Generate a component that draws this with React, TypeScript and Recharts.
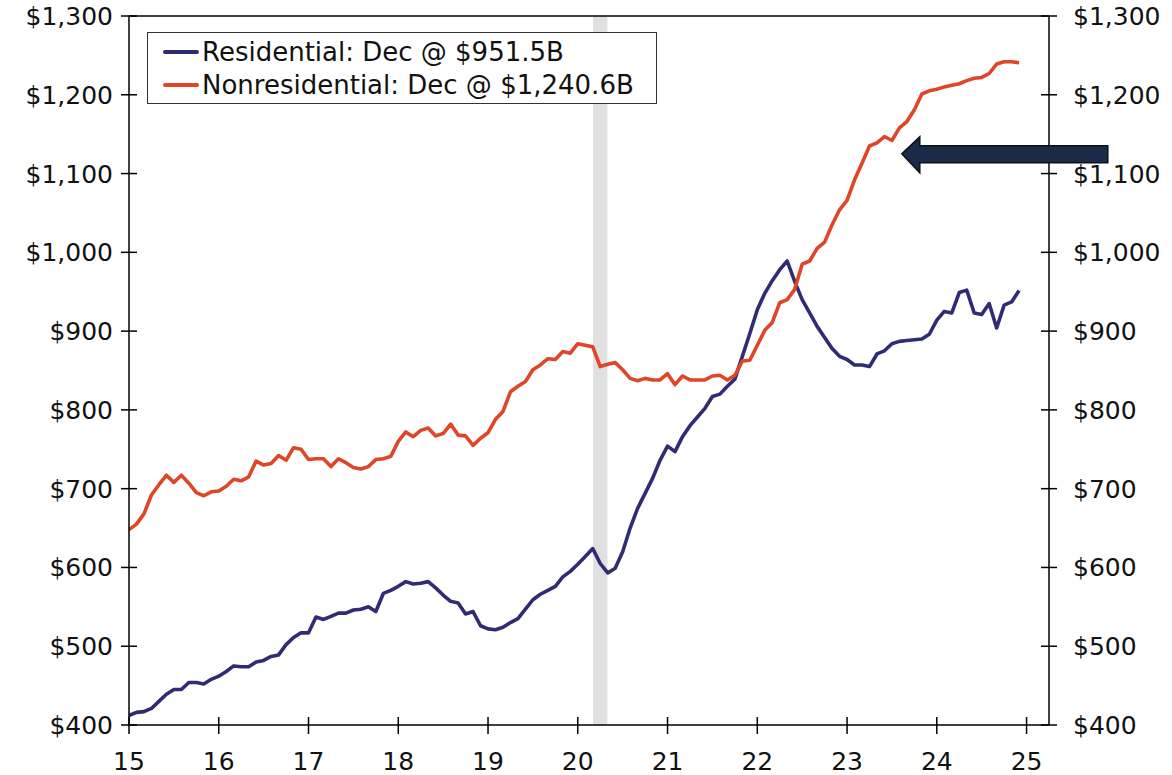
import React from 'react'
import { LineChart, Line, XAxis, YAxis, ReferenceArea, ReferenceLine, ReferenceDot, Legend } from 'recharts'

// monthly, Jan 2015 .. Dec 2024, $ billions (SAAR)
const residential = [
  412, 416, 417, 421, 430, 439, 445, 445, 454, 454, 452, 458,
  462, 468, 475, 474, 474, 480, 482, 487, 489, 502, 511, 517,
  517, 537, 534, 538, 542, 542, 546, 547, 550, 544, 567, 571,
  576, 582, 579, 580, 582, 574, 565, 557, 555, 541, 544, 526,
  522, 521, 524, 530, 535, 547, 559, 566, 571, 576, 588, 595,
  604, 614, 624, 605, 593, 599, 620, 650, 675, 694, 713, 736,
  754, 747, 766, 780, 791, 802, 817, 820, 830, 839, 868, 897,
  927, 948, 964, 978, 989, 963, 940, 923, 906, 892, 878, 868,
  864, 857, 857, 855, 871, 875, 884, 887, 888, 889, 890, 896,
  914, 925, 923, 949, 952, 923, 921, 935, 904, 933, 937, 951.5,
]

const nonresidential = [
  648, 655, 668, 692, 705, 717, 708, 717, 707, 695, 691, 696,
  697, 703, 712, 710, 715, 735, 730, 732, 742, 736, 752, 750,
  737, 738, 738, 728, 738, 733, 727, 725, 728, 737, 738, 741,
  760, 772, 766, 774, 777, 767, 770, 782, 768, 767, 755, 764,
  771, 788, 798, 823, 830, 836, 851, 857, 865, 864, 874, 872,
  884, 882, 880, 855, 858, 860, 851, 840, 837, 840, 838, 838,
  846, 832, 843, 838, 838, 838, 843, 844, 838, 844, 862, 863,
  882, 901, 911, 936, 940, 953, 985, 989, 1005, 1013, 1035, 1054,
  1066, 1092, 1113, 1135, 1139, 1147, 1142, 1158, 1166, 1181, 1201, 1205,
  1207, 1210, 1212, 1214, 1218, 1221, 1222, 1227, 1239, 1242, 1242, 1240.6,
]

const startYear = 15
const xTicks = [15, 16, 17, 18, 19, 20, 21, 22, 23, 24, 25]
const yTicks = [400, 500, 600, 700, 800, 900, 1000, 1100, 1200, 1300]
const recession = [20.17, 20.33]
const arrowTip = { x: 23.61, y: 1125 }

const legendItems = [
  { key: 'residential', label: 'Residential: Dec @ $951.5B', color: '#302C74' },
  { key: 'nonresidential', label: 'Nonresidential: Dec @ $1,240.6B', color: '#DF4527' },
]

const data = residential.map((r, i) => ({
  t: startYear + i / 12,
  residential: r,
  nonresidential: nonresidential[i],
}))

const FONT = '"DejaVu Sans", Verdana, sans-serif'
const money = (v: number) => '$' + v.toLocaleString('en-US')

const LeftTick = ({ x, y, payload }: any) => (
  <g>
    <line x1={x + 8} x2={x + 24} y1={y} y2={y} stroke="#000" strokeWidth={1.5} />
    <text x={x} y={y} dy="0.36em" textAnchor="end" fontSize={25} fontFamily={FONT} fill="#111">
      {money(payload.value)}
    </text>
  </g>
)

const RightTick = ({ x, y, payload }: any) => (
  <g>
    <line x1={x - 32} x2={x - 16} y1={y} y2={y} stroke="#000" strokeWidth={1.5} />
    <text x={x} y={y} dy="0.36em" textAnchor="start" fontSize={25} fontFamily={FONT} fill="#111">
      {money(payload.value)}
    </text>
  </g>
)

const BottomTick = ({ x, y, payload }: any) => (
  <g>
    <line x1={x} x2={x} y1={y - 35} y2={y - 18} stroke="#000" strokeWidth={1.5} />
    <text x={x} y={y} dy="0.71em" textAnchor="middle" fontSize={25} fontFamily={FONT} fill="#111">
      {payload.value}
    </text>
  </g>
)

const Arrow = ({ cx, cy }: any) => (
  <polygon
    transform={`translate(${cx},${cy})`}
    points="0,0 18,-17 18,-8 206,-8 206,9 18,9 18,19"
    fill="#1B2A47"
    stroke="#0A111E"
    strokeWidth={1.5}
  />
)

const LegendBox = () => (
  <div
    style={{
      border: '1.5px solid #333',
      background: '#fff',
      padding: '2px 0 2px 15px',
      width: 493,
      fontFamily: FONT,
      fontSize: 26,
      color: '#111',
    }}
  >
    {legendItems.map((it) => (
      <div key={it.key} style={{ display: 'flex', alignItems: 'center', height: 33 }}>
        <span style={{ display: 'inline-block', width: 36, height: 4, background: it.color, marginRight: 3, borderRadius: 2 }} />
        <span style={{ whiteSpace: 'nowrap' }}>{it.label}</span>
      </div>
    ))}
  </div>
)

export default function App() {
  return (
    <div style={{ position: 'absolute', left: 0, top: 0, width: 1172, height: 775, background: '#fff' }}>
      <LineChart width={1172} height={775} data={data} margin={{ top: 16, right: 0, bottom: 0, left: 0 }}>
        <ReferenceArea yAxisId="left" x1={recession[0]} x2={recession[1]} fill="#E0E0E0" fillOpacity={1} stroke="none" />
        <ReferenceLine yAxisId="left" y={1300} stroke="#000" strokeWidth={1.5} />
        <XAxis
          dataKey="t"
          type="number"
          domain={[15, 25.25]}
          ticks={xTicks}
          allowDataOverflow
          height={50}
          tickSize={8}
          tickMargin={19}
          tickLine={false}
          axisLine={{ stroke: '#000', strokeWidth: 1.5 }}
          tick={<BottomTick />}
          interval={0}
        />
        <YAxis
          yAxisId="left"
          domain={[400, 1300]}
          ticks={yTicks}
          width={129}
          tickSize={8}
          tickMargin={8}
          tickLine={false}
          axisLine={{ stroke: '#000', strokeWidth: 1.5 }}
          tick={<LeftTick />}
          interval={0}
        />
        <YAxis
          yAxisId="right"
          orientation="right"
          domain={[400, 1300]}
          ticks={yTicks}
          width={123}
          tickSize={8}
          tickMargin={16}
          tickLine={false}
          axisLine={{ stroke: '#000', strokeWidth: 1.5 }}
          tick={<RightTick />}
          interval={0}
        />
        <Line yAxisId="left" type="linear" dataKey="residential" stroke="#302C74" strokeWidth={3.6} dot={false} isAnimationActive={false} strokeLinejoin="round" />
        <Line yAxisId="right" type="linear" dataKey="nonresidential" stroke="#DF4527" strokeWidth={3.6} dot={false} isAnimationActive={false} strokeLinejoin="round" />
        <Legend
          layout="vertical"
          align="center"
          verticalAlign="middle"
          content={<LegendBox />}
          wrapperStyle={{ left: 147, top: 32, width: 'auto' }}
        />
        <ReferenceDot yAxisId="left" x={arrowTip.x} y={arrowTip.y} r={0} shape={<Arrow />} />
      </LineChart>
    </div>
  )
}
